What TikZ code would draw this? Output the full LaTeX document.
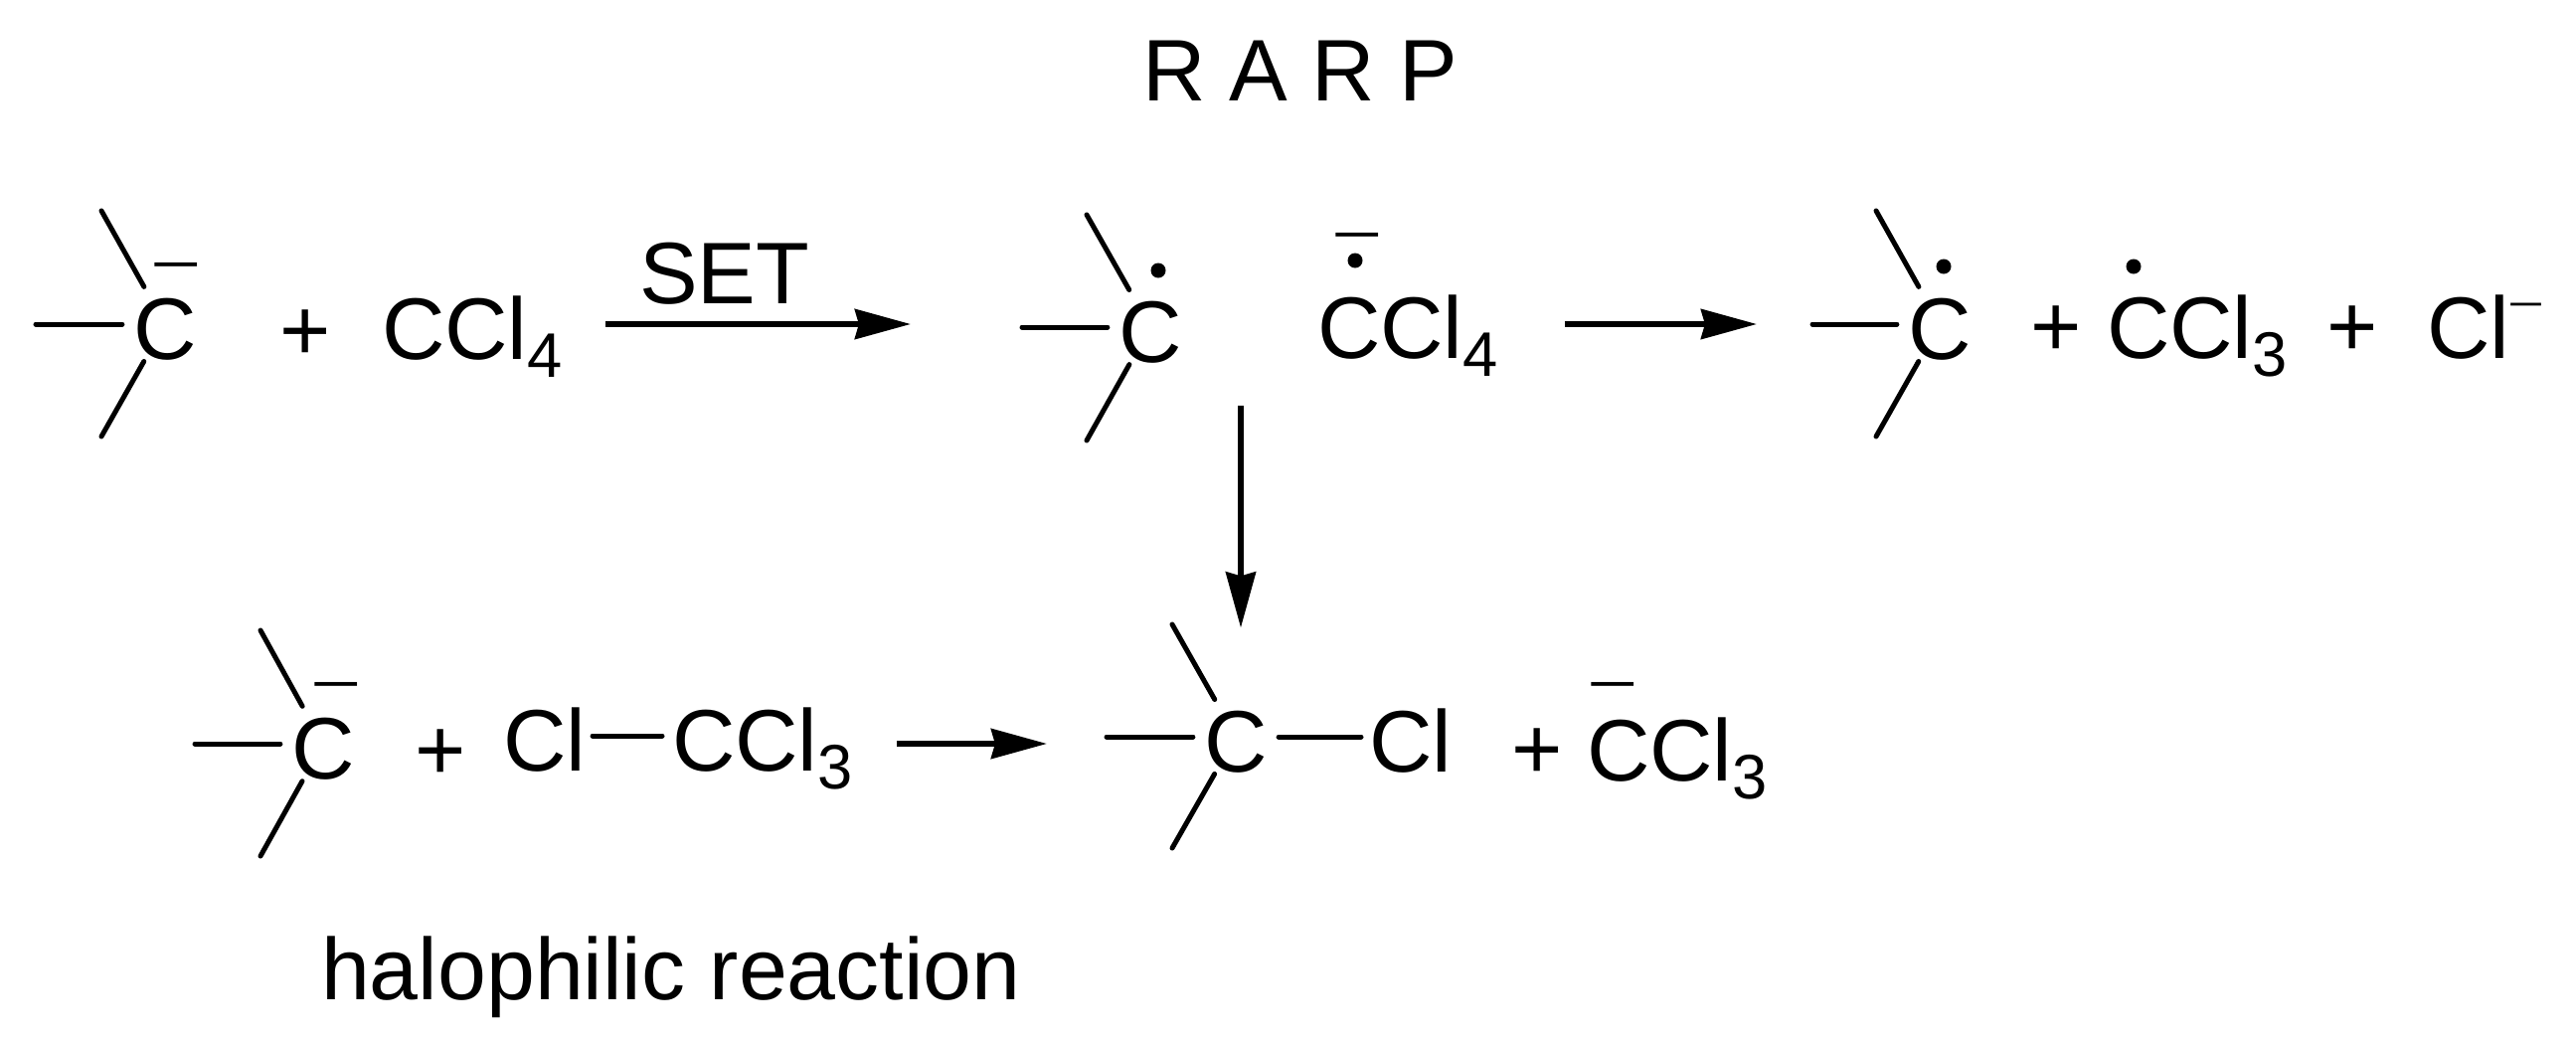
\documentclass[tikz,border=0pt]{standalone}
\usepackage{fontspec}
\usepackage{graphicx}
\setmainfont{Liberation Sans}
\usetikzlibrary{arrows.meta}
\newcommand{\subnum}[1]{\raisebox{-.18cm}{\fontsize{18}{18}\selectfont #1}}
\newcommand{\thinminus}{\scalebox{1}[.62]{−}}
\tikzset{
  chem/.style={inner sep=0,outer sep=0,text height=.71cm,text depth=0,anchor=west,font=\fontsize{25}{25}\selectfont},
  sign/.style={chem,anchor=center},
  carbon/.style={chem,anchor=center,circle},
  bond/.style={line width=.05cm,line cap=round,shorten <=-.045cm},
  rxn/.style={line width=.055cm,-{Stealth[length=.56cm,width=.3cm,inset=.04cm]}},
  negative/.style={inner sep=0,outer sep=0,text height=.36cm,text depth=0,font=\fontsize{25}{25}\selectfont},
  radical/.style={circle,fill,inner sep=0,outer sep=0,minimum size=.15cm},
}
\begin{document}
\begin{tikzpicture}[x=.01cm,y=-.01cm]
\useasboundingbox (0,0) rectangle (2591,1045);
\node[chem] (title) at (1149,66) {R A R P};
% top row
\node[carbon] (Ca) at (166,326) {C};
\coordinate (Ca1) at (102,212);
\coordinate (Ca2) at (36,326);
\coordinate (Ca3) at (102,439);
\draw[bond] (Ca) -- (Ca1);
\draw[bond] (Ca) -- (Ca2);
\draw[bond] (Ca) -- (Ca3);
\node[negative] (mina) at (177,266) {\thinminus};
\node[sign] (plusa) at (307,327) {+};
\node[chem] (CCla) at (384,326) {CCl\subnum{4}};
\node[chem] (set) at (643,270) {SET};
\node[carbon] (Cb) at (1157,329) {C};
\coordinate (Cb1) at (1093,216);
\coordinate (Cb2) at (1028,329);
\coordinate (Cb3) at (1093,443);
\draw[bond] (Cb) -- (Cb1);
\draw[bond] (Cb) -- (Cb2);
\draw[bond] (Cb) -- (Cb3);
\node[radical] (dota) at (1165,272) {};
\node[chem] (CClb) at (1325,325) {CCl\subnum{4}};
\node[radical] (dotb) at (1363,262) {};
\node[negative] (minb) at (1365,236) {\thinminus};
\node[carbon] (Cc) at (1951,326) {C};
\coordinate (Cc1) at (1887,212);
\coordinate (Cc2) at (1823,326);
\coordinate (Cc3) at (1887,439);
\draw[bond] (Cc) -- (Cc1);
\draw[bond] (Cc) -- (Cc2);
\draw[bond] (Cc) -- (Cc3);
\node[radical] (dotc) at (1955,268) {};
\node[sign] (plusb) at (2068,323) {+};
\node[chem] (CClc) at (2119,325) {CCl\subnum{3}};
\node[radical] (dotd) at (2146,268) {};
\node[sign] (plusc) at (2366,323) {+};
\node[chem] (Cla) at (2441,325) {Cl};
\node[negative,text height=.26cm,font=\fontsize{18}{18}\selectfont] (minc) at (2541,306) {\thinminus};
\draw[rxn,shorten <=.43cm,shorten >=1.12cm] (CCla) -- (Cb2 |- CCla);
\draw[rxn,shorten <=.67cm,shorten >=.56cm] (CClb.east |- Cc2) -- (Cc2);
% bottom row
\node[carbon] (Cd) at (325,748) {C};
\coordinate (Cd1) at (262,634);
\coordinate (Cd2) at (196,748);
\coordinate (Cd3) at (262,861);
\draw[bond] (Cd) -- (Cd1);
\draw[bond] (Cd) -- (Cd2);
\draw[bond] (Cd) -- (Cd3);
\node[negative] (mind) at (338,688) {\thinminus};
\node[sign] (plusd) at (443,749) {+};
\node[chem] (Clb) at (506,740) {Cl};
\node[chem] (CCld) at (676,740) {CCl\subnum{3}};
\draw[bond,shorten <=.07cm,shorten >=.1cm] (Clb) -- (CCld);
\node[carbon] (Ce) at (1243,741) {C};
\coordinate (Ce1) at (1179,628);
\coordinate (Ce2) at (1113,741);
\coordinate (Ce3) at (1179,853);
\draw[bond] (Ce) -- (Ce1);
\draw[bond] (Ce) -- (Ce2);
\draw[bond] (Ce) -- (Ce3);
\node[chem] (Clc) at (1377,741) {Cl};
\draw[bond,shorten >=.08cm] (Ce) -- (Clc);
\node[sign] (pluse) at (1546,748) {+};
\node[chem] (CCle) at (1596,750) {CCl\subnum{3}};
\node[negative] (mine) at (1622,688) {\thinminus};
\draw[rxn,shorten <=.44cm,shorten >=.6cm] (CCld.east |- Cd) -- (Ce2 |- Cd);
\coordinate (down) at (1248,408);
\draw[rxn,shorten >=.62cm] (down) -- (down |- Ce.north);
\node[chem] (halo) at (323,970) {halophilic reaction};
\end{tikzpicture}
\end{document}
